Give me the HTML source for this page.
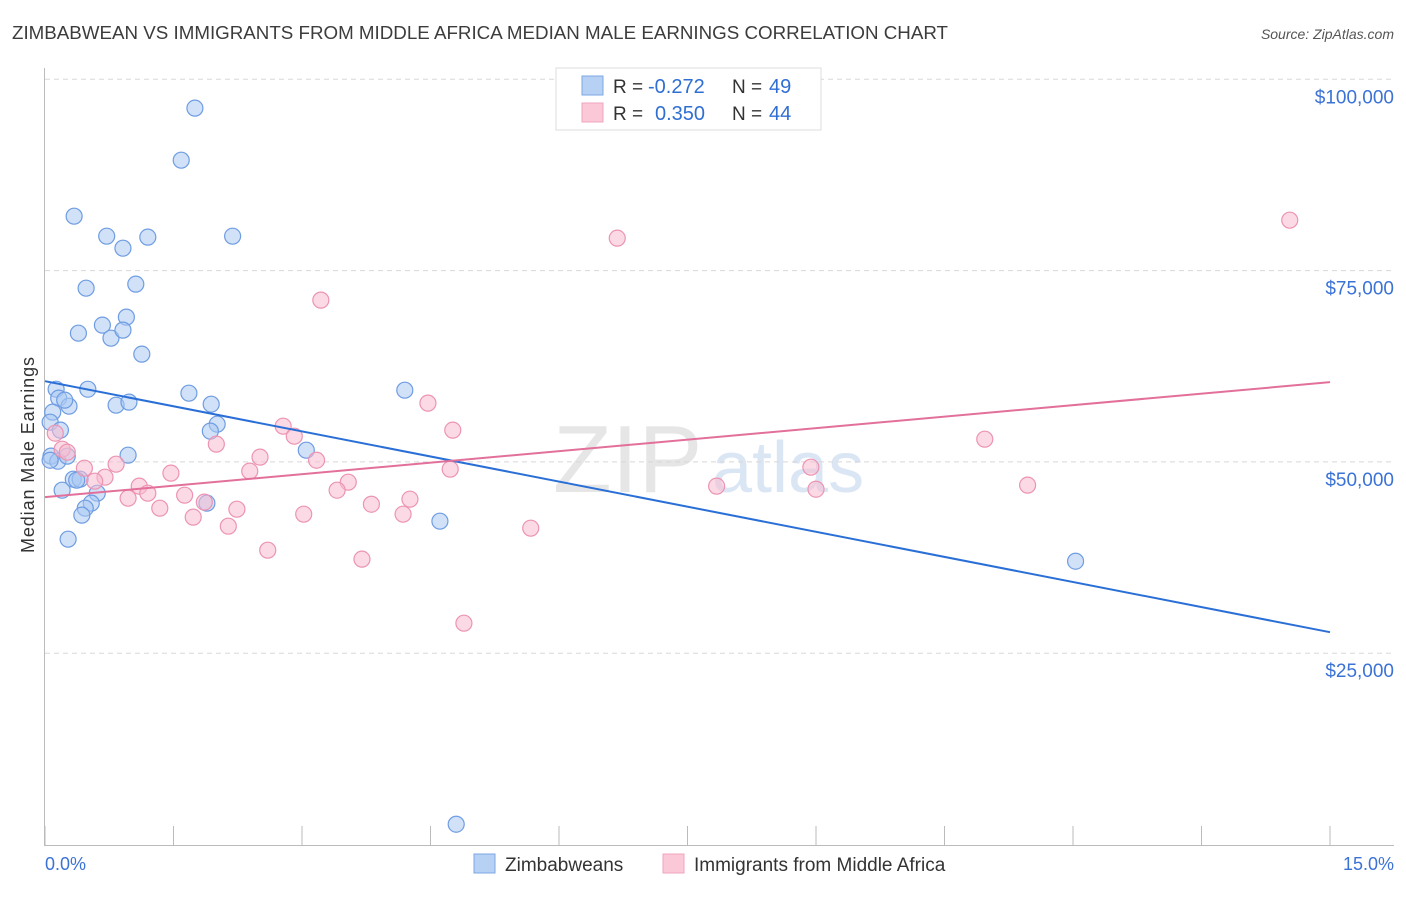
<!DOCTYPE html>
<html><head><meta charset="utf-8"><style>
body{margin:0;background:#fff;font-family:"Liberation Sans",sans-serif;}
svg text{font-family:"Liberation Sans",sans-serif;}
</style></head><body>
<svg id="chart" width="1406" height="892">
<text x="12" y="39" font-size="18" fill="#3c3c3c" textLength="936" lengthAdjust="spacingAndGlyphs">ZIMBABWEAN VS IMMIGRANTS FROM MIDDLE AFRICA MEDIAN MALE EARNINGS CORRELATION CHART</text>
<text x="1394" y="39" font-size="14" font-style="italic" fill="#555" text-anchor="end">Source: ZipAtlas.com</text>
<text transform="translate(34,455) rotate(-90)" font-size="18" fill="#333" text-anchor="middle" textLength="196">Median Male Earnings</text>
<text x="553" y="492" font-size="96" font-family="Liberation Serif" fill="#e6e6e6">ZIP</text>
<text x="712" y="492" font-size="72" fill="#dbe6f5">atlas</text>
<g id="grid"></g>
<g id="axes"></g>
<g id="pts"></g>
<g id="lines"></g>
<g>
<rect x="556" y="68" width="265" height="62" fill="#fff" stroke="#ddd"/>
<rect x="582" y="76" width="21" height="19" fill="#b7d1f4" stroke="#7ea7e3"/>
<rect x="582" y="103" width="21" height="19" fill="#fbc8d7" stroke="#f0a4bd"/>
<text x="613" y="93" font-size="19" fill="#333">R =</text>
<text x="648" y="93" font-size="20" fill="#2f6fd3">-0.272</text>
<text x="732" y="93" font-size="19" fill="#333">N =</text>
<text x="769" y="93" font-size="20" fill="#2f6fd3">49</text>
<text x="613" y="120" font-size="19" fill="#333">R =</text>
<text x="655" y="120" font-size="20" fill="#2f6fd3">0.350</text>
<text x="732" y="120" font-size="19" fill="#333">N =</text>
<text x="769" y="120" font-size="20" fill="#2f6fd3">44</text>
</g>
<g>
<rect x="474" y="854" width="21" height="19" fill="#b7d1f4" stroke="#7ea7e3"/>
<text x="505" y="871" font-size="19" fill="#333">Zimbabweans</text>
<rect x="663" y="854" width="21" height="19" fill="#fbc8d7" stroke="#f0a4bd"/>
<text x="694" y="871" font-size="19" fill="#333">Immigrants from Middle Africa</text>
</g>
<text x="45" y="870" font-size="18" fill="#3b72d6">0.0%</text>
<text x="1394" y="870" font-size="18" fill="#3b72d6" text-anchor="end">15.0%</text>
</svg>
<script>
const yTicks=[25000,50000,75000,100000];
const yTickLabels=["$25,000","$50,000","$75,000","$100,000"];
const xTicks=[0,1.5,3,4.5,6,7.5,9,10.5,12,13.5,15];
const blueX=[1.75,1.59,0.34,0.72,1.20,2.19,0.91,0.48,1.06,0.39,0.67,0.95,0.77,0.91,1.13,0.13,0.50,0.16,0.28,0.23,0.09,1.68,0.83,0.98,1.94,4.20,0.06,0.18,2.01,1.93,3.05,0.07,0.97,0.15,0.26,0.06,0.20,0.33,0.41,0.37,0.61,0.54,0.47,0.43,1.89,0.27,4.61,12.03,4.80];
const blueY=[96230,89430,82110,79500,79370,79500,77930,72700,73230,66820,67870,68920,66170,67220,64080,59500,59500,58330,57280,58070,56500,58980,57410,57810,57540,59370,55190,54150,54930,54020,51530,50750,50880,50090,50750,50220,46300,47740,47740,47610,45910,44610,43950,43040,44610,39900,42250,37020,2650];
const pinkX=[14.53,6.68,3.22,4.47,2.78,2.91,4.76,2.00,0.12,0.20,0.26,2.51,3.17,10.97,0.83,0.46,1.47,2.39,4.73,8.94,0.70,0.58,3.54,1.10,1.20,1.63,3.41,0.97,1.86,4.26,1.34,2.24,3.81,7.84,9.00,11.47,1.73,3.02,4.18,2.14,5.67,2.60,3.70,4.89];
const pinkY=[81590,79240,71140,57680,54670,53360,54150,52320,53750,51660,51270,50620,50220,52970,49700,49180,48530,48790,49050,49310,48000,47480,47350,46830,45910,45650,46300,45260,44740,45130,43950,43820,44470,46830,46430,46960,42780,43170,43170,41600,41340,38460,37290,28920];
const blueTrend=[60550,27745];
const pinkTrend=[45390,60420];
const NS="http://www.w3.org/2000/svg";
const xs=v=>45+v/15*1285;
const ys=v=>844.5-v/25000*191.3;
function mk(tag,attrs,parent){const e=document.createElementNS(NS,tag);for(const k in attrs)e.setAttribute(k,attrs[k]);document.getElementById(parent).appendChild(e);return e;}
yTicks.forEach((t,i)=>{
 const l=mk('line',{x1:45,x2:1394,y1:ys(t),y2:ys(t),stroke:'#d8d8d8','stroke-dasharray':'5,4'},'grid');
 
 
 const tx=mk('text',{x:1394,y:ys(t)+24,'font-size':19,fill:'#3b72d6','text-anchor':'end'},'grid');
 tx.textContent=yTickLabels[i];
 
 
});
const ax=mk('line',{x1:44.5,x2:44.5,y1:68,y2:845,stroke:'#bbb'},'axes');


const bx=mk('line',{x1:44,x2:1394,y1:845.5,y2:845.5,stroke:'#bbb'},'axes');


xTicks.forEach(t=>{
 const l=mk('line',{x1:xs(t),x2:xs(t),y1:826,y2:845,stroke:'#bbb'},'axes');
 
 
});
function pts(X,Y,fill,stroke,name){X.forEach((x,i)=>{
 const c=mk('circle',{cx:xs(x),cy:ys(Y[i]),r:8,fill:fill,'fill-opacity':0.55,stroke:stroke,'stroke-width':1.2},'pts');
 
 
});}
pts(blueX,blueY,'#aac8f2','#6f9de2','point-zimbabweans');
pts(pinkX,pinkY,'#f8bccf','#ec94b2','point-middle-africa');
const bl=mk('line',{x1:xs(0),x2:xs(15),y1:ys(blueTrend[0]),y2:ys(blueTrend[1]),stroke:'#2a6fd6','stroke-width':2},'lines');


const pl=mk('line',{x1:xs(0),x2:xs(15),y1:ys(pinkTrend[0]),y2:ys(pinkTrend[1]),stroke:'#e2709a','stroke-width':2},'lines');


</script>
</body></html>
